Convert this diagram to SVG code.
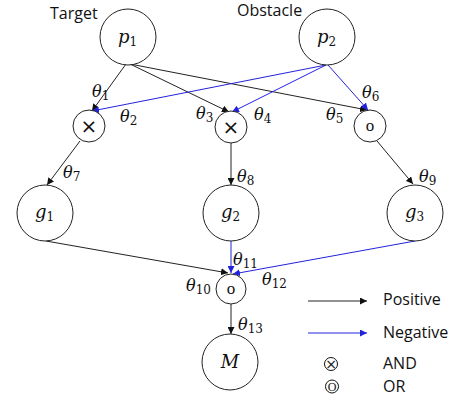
<svg xmlns="http://www.w3.org/2000/svg" width="455" height="400" viewBox="0 0 455 400">
<style>
.n{fill:#fff;stroke:#222;stroke-width:1}
.m{font-family:"DejaVu Serif","Liberation Serif",serif;font-style:italic;font-size:18px;fill:#111}
.t{font-family:"DejaVu Serif","Liberation Serif",serif;font-style:italic;font-size:16px;fill:#111}
.s{font-size:12px;font-style:normal}
.l{font-family:"Open Sans","Liberation Sans",sans-serif;font-size:16px;fill:#111}
.x{font-family:"DejaVu Sans",sans-serif;font-size:20px;fill:#111}
.o{font-family:"Liberation Serif",serif;font-size:17px;fill:#111}
.pos{stroke:#222;stroke-width:1;fill:none;marker-end:url(#ab)}
.neg{stroke:#2222dd;stroke-width:1;fill:none;marker-end:url(#au)}
</style>
<defs>
<marker id="ab" viewBox="0 0 10 10" refX="10" refY="5" markerWidth="7" markerHeight="7" orient="auto" markerUnits="userSpaceOnUse"><path d="M0,0L10,5L0,10z" fill="#111"/></marker>
<marker id="au" viewBox="0 0 10 10" refX="10" refY="5" markerWidth="7" markerHeight="7" orient="auto" markerUnits="userSpaceOnUse"><path d="M0,0L10,5L0,10z" fill="#2222dd"/></marker>
</defs>
<g id="connectors">
<line class="pos" x1="126" y1="64" x2="92" y2="111"/>
<line class="pos" x1="130" y1="64" x2="229" y2="112"/>
<line class="pos" x1="130" y1="64" x2="367" y2="110"/>
<line class="neg" x1="326" y1="65" x2="92" y2="111"/>
<line class="neg" x1="326" y1="65" x2="232" y2="112"/>
<line class="neg" x1="328" y1="65" x2="368" y2="110"/>
<line class="pos" x1="80" y1="141" x2="47" y2="185"/>
<line class="pos" x1="231" y1="143" x2="231" y2="185"/>
<line class="pos" x1="377" y1="141" x2="413" y2="184"/>
<line class="pos" x1="46" y1="241" x2="228" y2="273"/>
<line class="neg" x1="231" y1="241" x2="231" y2="273"/>
<line class="neg" x1="415" y1="241" x2="233" y2="274"/>
<line class="pos" x1="231" y1="304" x2="231" y2="334"/>
<line class="pos" x1="308" y1="301" x2="367" y2="301"/>
<line class="neg" x1="308" y1="333" x2="367" y2="333"/>
</g>
<g id="p1"><circle class="n" cx="128" cy="37" r="28"/><text class="m" x="118" y="43">p<tspan class="s" font-size="13" dy="3">1</tspan></text></g>
<g id="p2"><circle class="n" cx="327" cy="37" r="28"/><text class="m" x="317" y="43">p<tspan class="s" font-size="13" dy="3">2</tspan></text></g>
<g id="and1"><circle class="n" cx="89" cy="126" r="16"/><text class="x" x="89" y="133" text-anchor="middle">×</text></g>
<g id="and2"><circle class="n" cx="231" cy="127" r="16"/><text class="x" x="231" y="134" text-anchor="middle">×</text></g>
<g id="or1"><circle class="n" cx="370" cy="126" r="16"/><text class="o" x="370" y="131" text-anchor="middle">o</text></g>
<g id="g1"><circle class="n" cx="45" cy="213" r="28"/><text class="m" x="35" y="218">g<tspan class="s" font-size="13" dy="3">1</tspan></text></g>
<g id="g2"><circle class="n" cx="231" cy="213" r="28"/><text class="m" x="221" y="218">g<tspan class="s" font-size="13" dy="3">2</tspan></text></g>
<g id="g3"><circle class="n" cx="415" cy="213" r="28"/><text class="m" x="405" y="218">g<tspan class="s" font-size="13" dy="3">3</tspan></text></g>
<g id="or2"><circle class="n" cx="231" cy="289" r="15"/><text class="o" x="231" y="294" text-anchor="middle">o</text></g>
<g id="M"><circle class="n" cx="230" cy="362" r="28"/><text class="m" x="230" y="368" text-anchor="middle">M</text></g>
<g id="labels">
<text class="l" x="50" y="19">Target</text>
<text class="l" x="237" y="16">Obstacle</text>
<text class="t" x="92" y="97">θ<tspan class="s" dy="3">1</tspan></text>
<text class="t" x="120" y="122">θ<tspan class="s" dy="3">2</tspan></text>
<text class="t" x="196" y="119">θ<tspan class="s" dy="3">3</tspan></text>
<text class="t" x="254" y="120">θ<tspan class="s" dy="3">4</tspan></text>
<text class="t" x="326" y="120">θ<tspan class="s" dy="3">5</tspan></text>
<text class="t" x="362" y="98">θ<tspan class="s" dy="3">6</tspan></text>
<text class="t" x="63" y="178">θ<tspan class="s" dy="3">7</tspan></text>
<text class="t" x="237" y="182">θ<tspan class="s" dy="3">8</tspan></text>
<text class="t" x="419" y="182">θ<tspan class="s" dy="3">9</tspan></text>
<text class="t" x="186" y="291">θ<tspan class="s" dy="3">10</tspan></text>
<text class="t" x="233" y="265">θ<tspan class="s" dy="3">11</tspan></text>
<text class="t" x="262" y="285">θ<tspan class="s" dy="3">12</tspan></text>
<text class="t" x="238" y="330">θ<tspan class="s" dy="3">13</tspan></text>
<text class="l" x="383" y="305">Positive</text>
<text class="l" x="383" y="338">Negative</text>
<circle cx="331" cy="364" r="6.5" fill="none" stroke="#111"/>
<text x="331" y="369" text-anchor="middle" font-family="DejaVu Sans,sans-serif" font-size="14" fill="#111">×</text>
<text class="l" x="383" y="369">AND</text>
<circle cx="332" cy="386.5" r="6.5" fill="none" stroke="#111"/>
<text x="332" y="391" text-anchor="middle" font-family="Liberation Serif,serif" font-size="12" fill="#111">O</text>
<text class="l" x="383" y="392">OR</text>
</g>
</svg>
